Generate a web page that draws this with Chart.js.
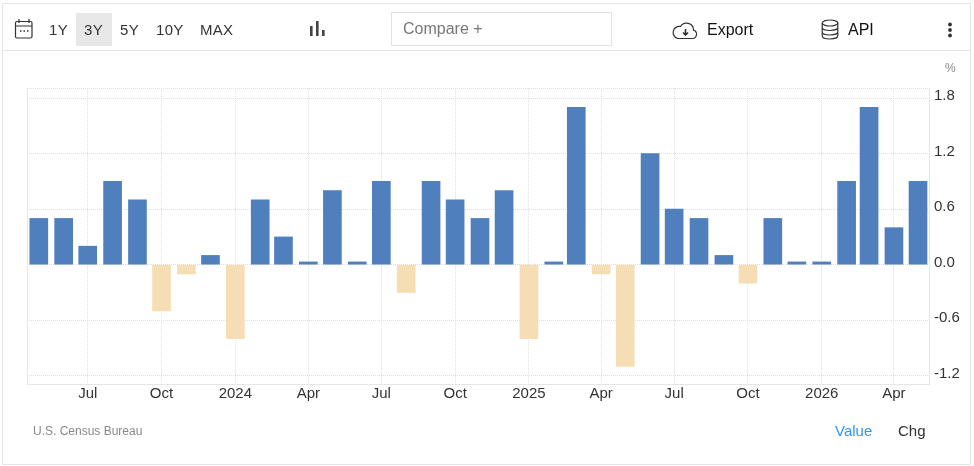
<!DOCTYPE html>
<html>
<head>
<meta charset="utf-8">
<script src="https://cdn.jsdelivr.net/npm/chart.js@4"></script>
<style>
  html, body { margin: 0; padding: 0; background: #fff; overflow: hidden; }
  body { width: 974px; height: 466px; position: relative; font-family: "Liberation Sans", Arial, sans-serif; }
  #frame { position: absolute; left: 2px; top: 3px; width: 967px; height: 460px; border: 1px solid #e6e6e6; }
  #bar { position: absolute; left: 3px; top: 50px; width: 967px; height: 1px; background: #e6e6e6; }
  #wrap { position: absolute; left: 0; top: 0; width: 974px; height: 466px; }
  canvas { display: block; }
  .t { position: absolute; white-space: nowrap; line-height: 1; }
  .r { font-size: 15px; color: #333; top: 22px; letter-spacing: 0.3px; }
  #sel { position: absolute; left: 76px; top: 13px; width: 36px; height: 33px; background: #e7e7e7; }
  #cmp { position: absolute; left: 391px; top: 12px; width: 219px; height: 32px; border: 1px solid #e3e3df; }
  svg { position: absolute; }
</style>
</head>
<body>
<div id="wrap"><canvas id="chart" width="974" height="466"></canvas></div>
<div id="frame"></div>
<div id="bar"></div>
<svg style="left:14px;top:18px" width="20" height="22" viewBox="0 0 20 22" fill="none" stroke="#333" stroke-width="1.2">
  <rect x="1.5" y="3.5" width="16.5" height="16.5" rx="1.5"/><path d="M1.5 8H18M5 1v4M15 1v4"/><path d="M6 13h1.5M9.5 13H11M13 13h1.5" stroke-width="1.6"/>
</svg>
<div id="sel"></div>
<div class="t r" style="left:49px">1Y</div>
<div class="t r" style="left:84px">3Y</div>
<div class="t r" style="left:120px">5Y</div>
<div class="t r" style="left:156px">10Y</div>
<div class="t r" style="left:200px">MAX</div>
<svg style="left:309px;top:20px" width="16" height="17" fill="#444">
  <rect x="1" y="6" width="2.6" height="10"/><rect x="7" y="1" width="2.6" height="15"/><rect x="13" y="10" width="2.6" height="6"/>
</svg>
<div id="cmp"></div>
<div class="t" style="left:403px;top:21px;font-size:16px;color:#777">Compare +</div>
<svg style="left:672px;top:20px" width="26" height="20" viewBox="0 0 26 20" fill="none" stroke="#333" stroke-width="1.2">
  <path d="M6 18.5H20.5a4.3 4.3 0 0 0 1-8.400A7 7 0 0 0 8.500 6.500 6 6 0 0 0 6 18.500Z"/>
  <path d="M13.500 9v5M11 12.500l2.500 2.500 2.500-2.500" stroke-width="1.600"/>
</svg>
<div class="t" style="left:707px;top:22px;font-size:16px;color:#111">Export</div>
<svg style="left:821px;top:19px" width="18" height="21" viewBox="0 0 18 21" fill="none" stroke="#333" stroke-width="1.2">
  <ellipse cx="9" cy="4" rx="7.800" ry="3"/><path d="M1.200 4v13c0 1.700 3.500 3 7.800 3s7.800-1.300 7.800-3V4M1.200 8.500c0 1.700 3.500 3 7.800 3s7.800-1.300 7.800-3M1.200 13c0 1.700 3.500 3 7.800 3s7.800-1.300 7.800-3"/>
</svg>
<div class="t" style="left:848px;top:22px;font-size:16px;color:#111">API</div>
<svg style="left:946px;top:22px" width="8" height="16" fill="#333">
  <circle cx="4" cy="2.500" r="1.900"/><circle cx="4" cy="8" r="1.900"/><circle cx="4" cy="13.500" r="1.900"/>
</svg>
<div class="t" style="left:945px;top:62px;font-size:12px;color:#8a8a8a">%</div>
<div class="t" style="left:33px;top:425px;font-size:12px;color:#888">U.S. Census Bureau</div>
<div class="t" style="left:835px;top:423px;font-size:15px;color:#2f96f3">Value</div>
<div class="t" style="left:898px;top:423px;font-size:15px;color:#333">Chg</div>
<script>
"use strict";

const months = ["2023-05","2023-06","2023-07","2023-08","2023-09","2023-10","2023-11","2023-12",
  "2024-01","2024-02","2024-03","2024-04","2024-05","2024-06","2024-07","2024-08","2024-09","2024-10","2024-11","2024-12",
  "2025-01","2025-02","2025-03","2025-04","2025-05","2025-06","2025-07","2025-08","2025-09","2025-10","2025-11","2025-12",
  "2026-01","2026-02","2026-03","2026-04","2026-05"];
const changes = [0.5,0.5,0.2,0.9,0.7,-0.5,-0.1,0.1,
  -0.8,0.7,0.3,0.03,0.8,0.03,0.9,-0.3,0.9,0.7,0.5,0.8,
  -0.8,0.03,1.7,-0.1,-1.1,1.2,0.6,0.5,0.1,-0.2,0.5,0.03,
  0.03,0.9,1.7,0.4,0.9];
const xTickMonths = ["2023-07","2023-10","2024-01","2024-04","2024-07","2024-10",
  "2025-01","2025-04","2025-07","2025-10","2026-01","2026-04"];
const xTickLabels = ["Jul","Oct","2024","Apr","Jul","Oct","2025","Apr","Jul","Oct","2026","Apr"];
const yTicks = [-1.2,-0.6,0,0.6,1.2,1.8];
const yMin = -1.29;
const yMax = 1.91;

// the x axis runs on real dates, so short months give closer bars
function monthToDay(m) {
  return Date.parse(m + "-01T00:00:00Z") / 86400000;
}

const barPoints = [];
for (let i = 0; i < months.length; i++) {
  barPoints.push({ x: monthToDay(months[i]), y: changes[i] });
}
const xTickDays = xTickMonths.map(monthToDay);

const canvasElem = document.getElementById("chart");
const gridColor = "#dfdfdf";

new Chart(canvasElem, {
  type: "bar",
  data: {
    datasets: [{
      label: "Chg",
      data: barPoints,
      backgroundColor: (ctx) => (ctx.raw && ctx.raw.y < 0 ? "#f5deb3" : "#4f7fbc"),
      barThickness: 18,
    }],
  },
  options: {
    responsive: false,
    animation: false,
    layout: { padding: { left: 27, top: 88, right: 0, bottom: 0 } },
    plugins: { legend: { display: false }, tooltip: { enabled: false } },
    scales: {
      x: {
        type: "linear",
        offset: false,
        min: monthToDay(months[0]) - 14.7,
        max: monthToDay(months[months.length - 1]) + 13.7,
        grid: { offset: false, color: gridColor, drawTicks: false, lineWidth: 1 },
        border: { dash: [1, 1], display: false },
        afterBuildTicks: (scale) => {
          scale.ticks = xTickDays.map((d) => ({ value: d }));
        },
        afterFit: (scale) => { scale.height = 82; },
        ticks: {
          autoSkip: false,
          maxRotation: 0,
          padding: 1,
          color: "#333",
          font: { family: "Liberation Sans", size: 15 },
          callback: (value) => xTickLabels[xTickDays.indexOf(value)],
        },
      },
      y: {
        position: "right",
        min: yMin,
        max: yMax,
        grid: { color: gridColor, drawTicks: false, lineWidth: 1 },
        border: { dash: [1, 1], display: false },
        afterBuildTicks: (scale) => {
          scale.ticks = yTicks.concat([yMax]).map((v) => ({ value: v }));
        },
        afterFit: (scale) => { scale.width = 45; },
        ticks: {
          padding: 5,
          labelOffset: -2,
          color: "#333",
          font: { family: "Liberation Sans", size: 15 },
          callback: (value) => (yTicks.includes(value) ? value.toFixed(1) : ""),
        },
      },
    },
  },
  plugins: [{
    id: "plotEdges",
    beforeDatasetsDraw(chart) {
      const a = chart.chartArea;
      const c = chart.ctx;
      c.save();
      c.strokeStyle = "#e6e6e6";
      c.lineWidth = 1;
      c.beginPath();
      c.moveTo(a.left + 0.5, a.top + 1);
      c.lineTo(a.left + 0.5, a.bottom + 0.5);
      c.lineTo(a.right + 0.5, a.bottom + 0.5);
      c.lineTo(a.right + 0.5, a.top);
      c.stroke();
      c.restore();
    },
  }],
});
</script>
</body>
</html>
